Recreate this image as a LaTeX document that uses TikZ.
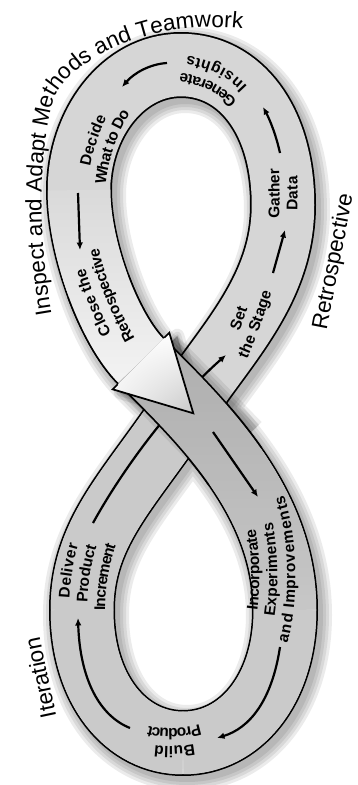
\documentclass[tikz,border=0pt]{standalone}
\usepackage{fontspec}
\setmainfont{Liberation Sans}
\usetikzlibrary{arrows.meta,decorations.text,shadings,fadings}
\definecolor{topband}{HTML}{D6D6D6}
\definecolor{botband}{HTML}{CACACA}
\newcommand\titlef{\fontsize{22.5}{26}\selectfont}
\newcommand\labf{\fontsize{15.5}{18}\selectfont\bfseries}
\newcommand\bandtext[3]{\path[decorate,decoration={text along path,text={|\labf|#1},text align=center,raise=#2}] #3;}
\begin{document}
\begin{tikzpicture}[x=1pt,y=-1pt,
  sarrow/.style={line width=2.2pt,-{Latex[length=7.5pt,width=6.5pt]}},
  bandline/.style={line width=66pt,black},
  bandfill/.style={line width=62.5pt},
  full/.style={insert path={(186,405) .. controls (225,345) and (283,290) .. (283,205)
     .. controls (283,120) and (240,65) .. (181,65)
     .. controls (122,65) and (79,125) .. (79,190)
     .. controls (79,250) and (110,330) .. (141,361)
     .. controls (200,420) and (285,500) .. (285,610)
     .. controls (285,690) and (240,743) .. (183,743)
     .. controls (126,743) and (82,690) .. (82,610)
     .. controls (82,530) and (131,489) .. (186,405) -- cycle}},
  sfour/.style={insert path={(79,190) .. controls (79,250) and (110,330) .. (141,361)}},
  sfourb/.style={insert path={(98.375,286.375) .. controls (110,317.75) and (125.5,345.5) .. (141,361)}},
  sfive/.style={insert path={(141,361) .. controls (200,420) and (285,500) .. (285,610)}},
  sfivea/.style={insert path={(141,361) .. controls (170.5,390.5) and (206.5,425.25) .. (235.125,466.375)}},
  ssix/.style={insert path={(285,610) .. controls (285,690) and (240,743) .. (183,743)}},
  sseven/.style={insert path={(183,743) .. controls (126,743) and (82,690) .. (82,610)}},
  seight/.style={insert path={(82,610) .. controls (82,530) and (131,489) .. (186,405)}},
  headpath/.style={insert path={(117.7,384.3) -- (112.7,389.3) -- (193.3,413.3) -- (169.3,332.7) -- (164.3,337.7)}}
]
\useasboundingbox (0,0) rectangle (357,785);
\fill[white] (0,0) rectangle (357,785);

% soft shadow of the whole band
\begin{scope}[shift={(4,5)}]
  \foreach \w in {86,80,74,68} {\draw[black,opacity=0.08,line width=\w pt,line join=round,full];}
\end{scope}

% band outline and base fill
\draw[bandline,line join=round,full];
\draw[bandfill,color=topband,line join=round,full];
\draw[bandfill,color=botband,ssix];
\draw[bandfill,color=botband,sseven];
\draw[bandfill,color=botband,seight];

% arrow running under the crossing band
\draw[sarrow] (93,523) .. controls (125,465) and (175,400) .. (226,355);

% shadow cast by the crossing band and arrow head
\begin{scope}[shift={(8,3)}]
  \foreach \w in {14,8,3} {\filldraw[black,opacity=0.08,line width=\w pt,line join=round,headpath] -- cycle;}
  \foreach \w in {80,73,67} {\draw[black,opacity=0.08,line width=\w pt] (141,361) -- (225,447);}
\end{scope}

% crossing band (on top)
\draw[bandline,sfourb];
\draw[bandline,sfivea];
\draw[bandfill,color=topband,sfour];
\draw[bandfill,white,opacity=0.75,path fading=north,sfour];
\draw[bandfill,color=botband,sfive];
\draw[bandfill,black,opacity=0.14,path fading=south,sfive];

% big arrow head
\shade[upper left=white,upper right=white,lower left=white!95!black,lower right=black!22,headpath] -- cycle;
\draw[line width=1.75pt,line join=miter,headpath];

% small flow arrows
\draw[sarrow] (273,273) -- (285,230);
\draw[sarrow] (280,153) .. controls (276,135) and (270,120) .. (263,107);
\draw[sarrow] (167,63) .. controls (150,64) and (134,73) .. (122,87);
\draw[sarrow] (78,193) -- (80,250);
\draw[sarrow] (213,432) -- (258,497);
\draw[sarrow] (280,647) .. controls (272,700) and (250,728) .. (217,738);
\draw[sarrow] (130,728) .. controls (100,716) and (80,680) .. (78,618);

% labels inside the band
\bandtext{Decide}{3.3pt}{(90,205) .. controls (90,165) and (102,120) .. (131,88)}
\bandtext{What to Do}{-14.7pt}{(90,205) .. controls (90,165) and (102,120) .. (131,88)}
\bandtext{Close the}{3.3pt}{(130,360) .. controls (110,325) and (88,285) .. (82,235)}
\bandtext{Retrospective}{-14.7pt}{(130,360) .. controls (110,325) and (88,285) .. (82,235)}
\bandtext{Set}{3.3pt}{(226,370) .. controls (240,340) and (254,305) .. (262,270)}
\bandtext{the Stage}{-14.7pt}{(226,370) .. controls (240,340) and (254,305) .. (262,270)}
\bandtext{Gather}{3.3pt}{(280,245) .. controls (284,215) and (284,175) .. (280,142)}
\bandtext{Data}{-14.7pt}{(280,245) .. controls (284,215) and (284,175) .. (280,142)}
\bandtext{Generate}{3.3pt}{(247,111) .. controls (231,83) and (206,71) .. (167,69)}
\bandtext{Insights}{-14.7pt}{(247,111) .. controls (231,83) and (206,71) .. (167,69)}
\bandtext{Incorporate}{12.3pt}{(258,655) .. controls (276,620) and (278,530) .. (254,485)}
\bandtext{Experiments}{-5.7pt}{(258,655) .. controls (276,620) and (278,530) .. (254,485)}
\bandtext{and Improvements}{-23.7pt}{(258,655) .. controls (276,620) and (278,530) .. (254,485)}
\bandtext{Deliver}{12.3pt}{(82,622) .. controls (80,597) and (84,557) .. (98,527)}
\bandtext{Product}{-5.7pt}{(82,622) .. controls (80,597) and (84,557) .. (98,527)}
\bandtext{Increment}{-23.7pt}{(82,622) .. controls (80,597) and (84,557) .. (98,527)}
\bandtext{Build}{3.3pt}{(220,730) .. controls (200,746) and (150,748) .. (128,733)}
\bandtext{Product}{-14.7pt}{(220,730) .. controls (200,746) and (150,748) .. (128,733)}

% outer titles
\path[decorate,decoration={text along path,text={|\titlef|Inspect and Adapt Methods and Teamwork},text align=center}]
  (53,322) .. controls (40,250) and (36,170) .. (52,105) .. controls (62,64) and (150,15) .. (250,30);
\node[rotate=79,font=\titlef,inner sep=0pt] (retro) at (334,262) {Retrospective};
\node[rotate=102,font=\titlef,inner sep=0pt] (iter) at (40,678) {Iteration};
\end{tikzpicture}
\end{document}
